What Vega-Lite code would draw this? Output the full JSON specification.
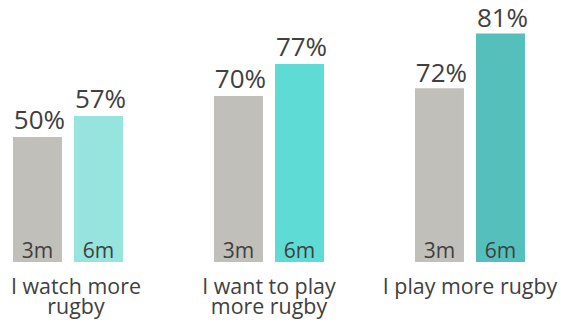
{
  "$schema": "https://vega.github.io/schema/vega-lite/v6.json",
  "autosize": {"type": "fit", "contains": "padding"},
  "width": 561,
  "height": 323,
  "background": "white",
  "padding": {"left": 0, "right": 0, "top": 0, "bottom": 5},
  "data": {
    "values": [
      {"category": "I watch more rugby", "period": "3m", "value": 0.50},
      {"category": "I watch more rugby", "period": "6m", "value": 0.57},
      {"category": "I want to play more rugby", "period": "3m", "value": 0.70},
      {"category": "I want to play more rugby", "period": "6m", "value": 0.77},
      {"category": "I play more rugby", "period": "3m", "value": 0.72},
      {"category": "I play more rugby", "period": "6m", "value": 0.81}
    ]
  },
  "encoding": {
    "x": {
      "field": "category", "type": "nominal",
      "sort": ["I watch more rugby", "I want to play more rugby", "I play more rugby"],
      "scale": {"paddingInner": 0.4527, "paddingOuter": 0.1219, "align": 0.265},
      "axis": {
        "title": null,
        "labelExpr": "datum.label == 'I watch more rugby' ? ['I watch more', 'rugby'] : datum.label == 'I want to play more rugby' ? ['I want to play', 'more rugby'] : datum.label",
        "labelOffset": {"condition": {"test": "datum.value == 'I watch more rugby'", "value": 8}, "value": 0}
      }
    },
    "xOffset": {"field": "period", "type": "nominal", "scale": {"paddingInner": 0.197, "paddingOuter": 0}}
  },
  "layer": [
    {
      "transform": [{"filter": "datum.category == 'I watch more rugby'"}],
      "layer": [
        {"mark": {"type": "bar"}, "encoding": {
          "y": {"field": "value", "type": "quantitative", "scale": {"domain": [0.0833, 0.9567], "nice": false, "zero": false, "clamp": true}, "axis": null},
          "color": {"field": "period", "type": "nominal", "scale": {"range": ["#C0BFBA", "#97E4DE"]}, "legend": null}}},
        {"mark": {"type": "text", "dy": -8, "dx": 2, "baseline": "alphabetic", "fontSize": 26, "color": "#404040"}, "encoding": {
          "y": {"field": "value", "type": "quantitative", "axis": null},
          "text": {"field": "value", "type": "quantitative", "format": ".0%"}}},
        {"mark": {"type": "text", "dy": -4.5, "baseline": "alphabetic", "fontSize": 21, "color": "#404040"}, "encoding": {
          "y": {"datum": 0, "axis": null},
          "text": {"field": "period", "type": "nominal"}}}
      ]
    },
    {
      "transform": [{"filter": "datum.category == 'I want to play more rugby'"}],
      "layer": [
        {"mark": {"type": "bar"}, "encoding": {
          "y": {"field": "value", "type": "quantitative", "scale": {"domain": [0.3369, 0.9100], "nice": false, "zero": false, "clamp": true}, "axis": null},
          "color": {"field": "period", "type": "nominal", "scale": {"range": ["#C0BFBA", "#5FDBD6"]}, "legend": null}}},
        {"mark": {"type": "text", "dy": -8, "dx": 2, "baseline": "alphabetic", "fontSize": 26, "color": "#404040"}, "encoding": {
          "y": {"field": "value", "type": "quantitative", "axis": null},
          "text": {"field": "value", "type": "quantitative", "format": ".0%"}}},
        {"mark": {"type": "text", "dy": -4.5, "baseline": "alphabetic", "fontSize": 21, "color": "#404040"}, "encoding": {
          "y": {"datum": 0, "axis": null},
          "text": {"field": "period", "type": "nominal"}}}
      ]
    },
    {
      "transform": [{"filter": "datum.category == 'I play more rugby'"}],
      "layer": [
        {"mark": {"type": "bar"}, "encoding": {
          "y": {"field": "value", "type": "quantitative", "scale": {"domain": [0.4348, 0.8650], "nice": false, "zero": false, "clamp": true}, "axis": null},
          "color": {"field": "period", "type": "nominal", "scale": {"range": ["#C0BFBA", "#55C0BB"]}, "legend": null}}},
        {"mark": {"type": "text", "dy": -6, "dx": 2, "baseline": "alphabetic", "fontSize": 26, "color": "#404040"}, "encoding": {
          "y": {"field": "value", "type": "quantitative", "axis": null},
          "text": {"field": "value", "type": "quantitative", "format": ".0%"}}},
        {"mark": {"type": "text", "dy": -4.5, "baseline": "alphabetic", "fontSize": 21, "color": "#404040"}, "encoding": {
          "y": {"datum": 0, "axis": null},
          "text": {"field": "period", "type": "nominal"}}}
      ]
    }
  ],
  "resolve": {"scale": {"y": "independent", "color": "independent"}},
  "config": {
    "font": "Open Sans",
    "view": {"stroke": null},
    "axis": {
      "domain": false, "ticks": false, "grid": false,
      "labelAngle": 0, "labelPadding": 14, "labelFontSize": 21.4, "labelColor": "#404040",
      "labelFont": "Open Sans", "labelLineHeight": 20.6, "labelLimit": 0
    }
  }
}
